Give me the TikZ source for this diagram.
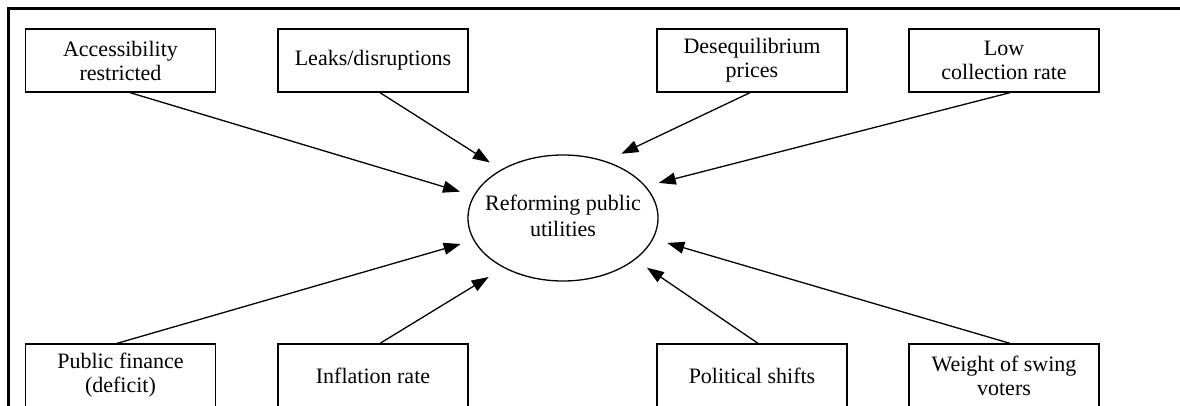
\documentclass[tikz,border=0pt]{standalone}
\usepackage{fontspec}
\setmainfont{Liberation Serif}
\usetikzlibrary{arrows.meta,shapes.geometric}
\begin{document}
\begin{tikzpicture}[x=1pt,y=-1pt,
  txt/.style={font=\fontsize{22}{24}\selectfont},
  factor/.style={draw, rectangle, line width=1.3pt, minimum width=190pt, minimum height=63pt, inner sep=0pt, align=center, txt},
  goal/.style={draw, ellipse, line width=1.3pt, minimum width=190pt, minimum height=126pt, inner sep=0pt, txt},
  arr/.style={line width=1.3pt, -{Triangle[length=17pt,width=12pt]}},
  framerule/.style={line width=2.7pt}]
\useasboundingbox (0,0) rectangle (1180,405);
\draw[framerule] (8.5,410) -- (8.5,8.5) -- (1185,8.5);

\node[factor] (acc)   at (120.5,60.5) {Accessibility\\restricted};
\node[factor] (leaks) at (373,60.5)   {Leaks/disruptions};
\node[factor] (deseq) at (752,60.5)   {Desequilibrium\\prices};
\node[factor] (low)   at (1004,60.5)  {Low\\collection rate};
\node[factor] (pub)   at (120.5,375.5) {Public finance\\(deficit)};
\node[factor] (infl)  at (373,375.5)  {Inflation rate};
\node[factor] (pol)   at (752,375.5)  {Political shifts};
\node[factor] (wt)    at (1004,375.5) {Weight of swing\\voters};

\node[goal] (ctr) at (563,218) {\makebox[0pt]{\renewcommand{\arraystretch}{1.1}\begin{tabular}{@{}c@{}}Reforming public\\utilities\end{tabular}}};

\draw[arr, shorten >=14pt]   ([xshift=9.5pt]acc.south) -- (ctr.166.9);
\draw[arr, shorten >=13.2pt] ([xshift=7pt]leaks.south) -- (ctr.142.3);
\draw[arr, shorten >=17.1pt] ([xshift=-2pt]deseq.south) -- (ctr.53.7);
\draw[arr, shorten >=13.3pt] ([xshift=6pt]low.south) -- (ctr.21.1);
\draw[arr, shorten >=13.3pt] ([xshift=-3.5pt]pub.north) -- (ctr.194.9);
\draw[arr, shorten >=17.5pt] ([xshift=7pt]infl.north) -- (ctr.220.6);
\draw[arr, shorten >=14.1pt] ([xshift=6pt]pol.north) -- (ctr.330.6);
\draw[arr, shorten >=14.5pt] ([xshift=6pt]wt.north) -- (ctr.347.6);
\end{tikzpicture}
\end{document}
